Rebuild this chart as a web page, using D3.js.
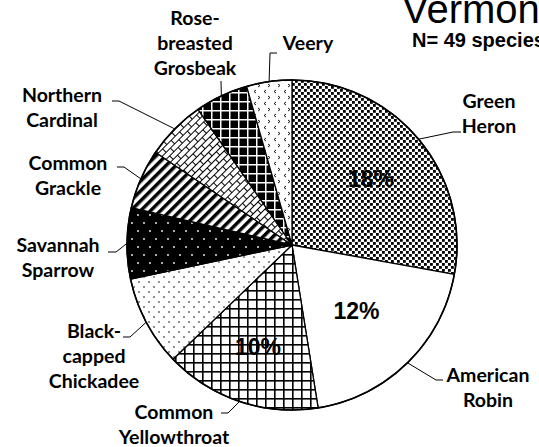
<!DOCTYPE html>
<html lang="en">
<head>
  <meta charset="UTF-8">
  <title>Vermont – species share</title>
  <style>
    body { margin: 0; background: #fff; }
    svg { display: block; }
    .lbl { font-family: Lato, "Open Sans", sans-serif; font-weight: 700; font-size: 19.5px; fill: #000; }
    .pct { font-family: "Liberation Sans", Arial, sans-serif; font-weight: 700; font-size: 23px; fill: #000; }
    .leader { fill: none; stroke: #000; stroke-width: 1; }
  </style>
</head>
<body>
  <script src="https://d3js.org/d3.v7.min.js"></script>
  <script>
    // data (share of all individuals, top species only)
    const species = ["Green Heron", "American Robin", "Common Yellowthroat", "Black-capped Chickadee",
      "Savannah Sparrow", "Common Grackle", "Northern Cardinal", "Rose-breasted Grosbeak", "Veery"];
    const percents = [17.6, 12.4, 9.7, 5.6, 4.4, 3.7, 3.7, 3.3, 2.8];
    const pctLabels = ["18%", "12%", "10%", "", "", "", "", "", ""];
    const fills = ["heron", "none", "ygrid", "sdots", "sav", "stripe", "brick", "bgrid", "chev"];

    // label layout: lines, centre x, first baseline, leader attach point and elbow
    const labelLines = [
      ["Green", "Heron"], ["American", "Robin"], ["Common", "Yellowthroat"], ["Black-", "capped", "Chickadee"],
      ["Savannah", "Sparrow"], ["Common", "Grackle"], ["Northern", "Cardinal"], ["Rose-", "breasted", "Grosbeak"], ["Veery"]
    ];
    const labelPos = [
      { x: 489, y: 108, a: [461, 132], e: [453, 132] },
      { x: 488, y: 382, a: [443, 380], e: [436, 380] },
      { x: 174, y: 419, a: [221, 413], e: [228, 413] },
      { x: 94, y: 338, a: [123, 337], e: [130, 337] },
      { x: 58, y: 252, a: [108, 252], e: [116, 252] },
      { x: 68, y: 170, a: [117, 167], e: [124, 167] },
      { x: 62, y: 102, a: [112, 101], e: [119, 101] },
      { x: 195, y: 25, a: [221, 81], e: [221, 81] },
      { x: 308, y: 50, a: [277, 53], e: [270, 53] }
    ];
    const pctRadius = [103, 92, 107];
    const lineH = 25;

    const width = 539, height = 447;
    const cx = 292, cy = 245, R = 165;

    const svg = d3.select("body").append("svg")
      .attr("width", width).attr("height", height);
    const defs = svg.append("defs");

    function pat(id, w, h, bg, transform) {
      const p = defs.append("pattern")
        .attr("id", id)
        .attr("patternUnits", "userSpaceOnUse")
        .attr("width", w).attr("height", h);
      if (transform) p.attr("patternTransform", transform);
      p.append("rect").attr("width", w).attr("height", h).attr("fill", bg);
      return p;
    }

    // dense dots (Green Heron)
    let p = pat("heron", 6, 6, "#fff");
    p.append("rect").attr("x", 0).attr("y", 0).attr("width", 2.8).attr("height", 2.8).attr("fill", "#000");
    p.append("rect").attr("x", 3).attr("y", 3).attr("width", 2.8).attr("height", 2.8).attr("fill", "#000");

    // open grid (Common Yellowthroat)
    p = pat("ygrid", 9, 9, "#fff");
    p.append("rect").attr("width", 9).attr("height", 1.6).attr("fill", "#000");
    p.append("rect").attr("width", 1.6).attr("height", 9).attr("fill", "#000");

    // sparse dots (Chickadee)
    p = pat("sdots", 10, 10, "#fff");
    p.append("circle").attr("cx", 2).attr("cy", 2).attr("r", 0.8).attr("fill", "#000");
    p.append("circle").attr("cx", 7).attr("cy", 7).attr("r", 0.8).attr("fill", "#000");

    // black with white dots (Savannah Sparrow)
    p = pat("sav", 12, 16, "#000");
    p.append("circle").attr("cx", 2).attr("cy", 2).attr("r", 0.9).attr("fill", "#fff");
    p.append("circle").attr("cx", 8).attr("cy", 10).attr("r", 0.9).attr("fill", "#fff");

    // wide diagonal stripes (Common Grackle)
    p = pat("stripe", 7, 7, "#fff", "rotate(45)");
    p.append("rect").attr("width", 3.5).attr("height", 7).attr("fill", "#000");

    // diagonal bricks (Northern Cardinal)
    p = pat("brick", 12, 10, "#fff", "rotate(-45)");
    p.append("path").attr("d", "M0,0.5H12M0,5.5H12M0.5,0V5M6.5,5V10")
      .attr("stroke", "#000").attr("stroke-width", 1).attr("fill", "none");

    // black with white grid (Grosbeak)
    p = pat("bgrid", 9, 9, "#000");
    p.append("rect").attr("width", 9).attr("height", 1.5).attr("fill", "#fff");
    p.append("rect").attr("width", 1.5).attr("height", 9).attr("fill", "#fff");

    // small chevrons (Veery)
    p = pat("chev", 10, 12, "#fff");
    p.append("path").attr("d", "M4,1L2,2.5L4,4M6,7L8,8.5L6,10")
      .attr("stroke", "#000").attr("stroke-width", 0.9).attr("fill", "none");

    const pie = d3.pie().sort(null).value(d => d);
    const arcs = pie(percents);
    const arc = d3.arc().innerRadius(0).outerRadius(R);

    const g = svg.append("g").attr("transform", `translate(${cx},${cy})`);

    g.selectAll("path.slice")
      .data(arcs)
      .join("path")
      .attr("class", "slice")
      .attr("d", arc)
      .attr("fill", (d, i) => fills[i] === "none" ? "#fff" : `url(#${fills[i]})`)
      .attr("stroke", "#000")
      .attr("stroke-width", 1.3)
      .attr("stroke-linejoin", "round");

    g.append("circle").attr("r", R).attr("fill", "none").attr("stroke", "#000").attr("stroke-width", 1.6);

    g.selectAll("text.pct")
      .data(arcs.slice(0, 3))
      .join("text")
      .attr("class", "pct")
      .attr("text-anchor", "middle")
      .attr("dy", "0.36em")
      .attr("transform", (d, i) => {
        const ra = d3.arc().innerRadius(pctRadius[i]).outerRadius(pctRadius[i]);
        return `translate(${ra.centroid(d)})`;
      })
      .text((d, i) => pctLabels[i]);

    // leader lines from slice mid-angle on the rim
    const rim = d => {
      const a = (d.startAngle + d.endAngle) / 2;
      return [cx + R * Math.sin(a), cy - R * Math.cos(a)];
    };
    svg.selectAll("polyline.leader")
      .data(arcs)
      .join("polyline")
      .attr("class", "leader")
      .attr("points", (d, i) => [labelPos[i].a, labelPos[i].e, rim(d)].map(q => q.join(",")).join(" "));

    const lbl = svg.selectAll("text.lbl")
      .data(species)
      .join("text")
      .attr("class", "lbl")
      .attr("text-anchor", "middle");
    lbl.each(function (d, i) {
      d3.select(this).selectAll("tspan")
        .data(labelLines[i])
        .join("tspan")
        .attr("x", labelPos[i].x)
        .attr("y", (t, k) => labelPos[i].y + k * lineH)
        .text(t => t);
    });

    svg.append("text")
      .attr("x", 402).attr("y", 23)
      .attr("font-family", "'Liberation Sans', Arial, sans-serif")
      .attr("font-size", 40)
      .text("Vermont");

    svg.append("text")
      .attr("x", 412).attr("y", 47)
      .attr("font-family", "'Liberation Sans', Arial, sans-serif")
      .attr("font-weight", 700)
      .attr("font-size", 20)
      .text("N= 49 species");
  </script>
</body>
</html>
